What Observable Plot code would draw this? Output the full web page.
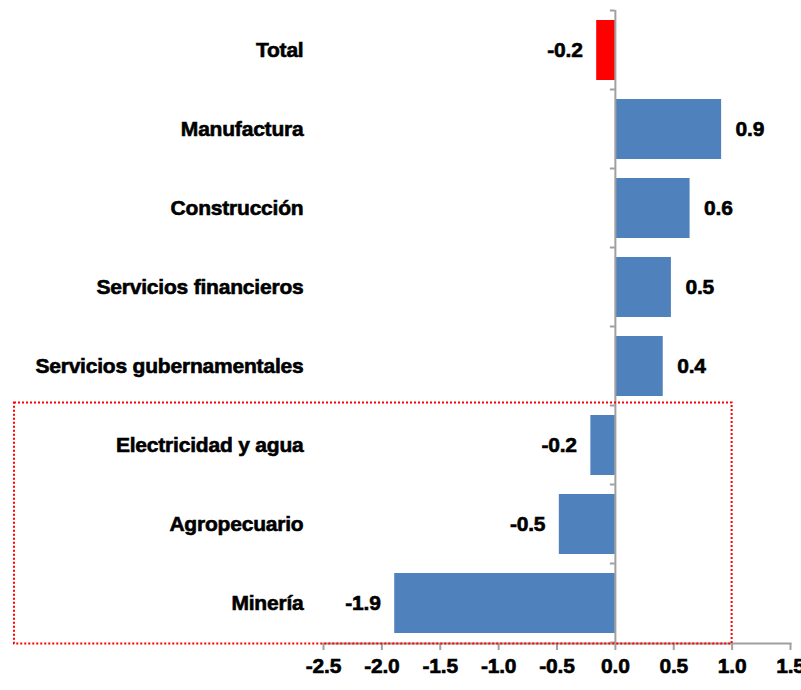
<!DOCTYPE html>
<html>
<head>
<meta charset="utf-8">
<script src="https://cdn.jsdelivr.net/npm/d3@7"></script>
<script src="https://cdn.jsdelivr.net/npm/@observablehq/plot@0.6"></script>
<style>
  html, body { margin: 0; padding: 0; background: #fff; }
  #chart svg { display: block; }
  #chart svg text { stroke: #000; stroke-width: 0.6px; letter-spacing: -0.2px; }
</style>
</head>
<body>
<div id="chart"></div>
<script>
const categories = ["Total", "Manufactura", "Construcción", "Servicios financieros", "Servicios gubernamentales", "Electricidad y agua", "Agropecuario", "Minería"];
const values = [-0.16, 0.91, 0.64, 0.48, 0.41, -0.21, -0.48, -1.89];
const valueLabels = ["-0.2", "0.9", "0.6", "0.5", "0.4", "-0.2", "-0.5", "-1.9"];
const highlighted = ["Total"];
const boxedCategories = ["Electricidad y agua", "Agropecuario", "Minería"];
const xTicks = [-2.5, -2.0, -1.5, -1.0, -0.5, 0.0, 0.5, 1.0, 1.5];

const data = categories.map((c, i) => ({category: c, value: values[i], label: valueLabels[i]}));
const pos = data.filter(d => d.value >= 0);
const neg = data.filter(d => d.value < 0);
const font = "'Liberation Sans', Arial, sans-serif";
const axisGray = "#a0a0a0";

const plot = Plot.plot({
  width: 801,
  height: 690,
  marginTop: 10,
  marginBottom: 47,
  marginLeft: 323,
  marginRight: 11,
  style: {fontFamily: font, fontWeight: "bold", fontSize: "21px", color: "#000", background: "#fff", overflow: "visible"},
  x: {domain: [-2.5, 1.5], label: null},
  y: {domain: categories, paddingInner: 0.24, paddingOuter: 0.12, axis: null},
  marks: [
    Plot.barX(data, {
      x: "value",
      y: "category",
      fill: d => highlighted.includes(d.category) ? "#FF0000" : "#4F81BD"
    }),
    Plot.ruleX([0], {stroke: axisGray, strokeWidth: 2}),
    Plot.frame({anchor: "bottom", stroke: axisGray, strokeWidth: 2}),
    Plot.axisX({
      ticks: xTicks,
      tickFormat: d => d.toFixed(1),
      tickSize: 7,
      stroke: axisGray,
      strokeWidth: 2,
      tickPadding: 8,
      fontSize: 21,
      fontWeight: "bold",
      fill: "#000",
      label: null
    }),
    Plot.text(data, {
      y: "category",
      frameAnchor: "left",
      dx: -20,
      textAnchor: "end",
      text: "category",
      fontSize: 21,
      fontWeight: "bold",
      fill: "#000"
    }),
    Plot.text(pos, {
      x: "value",
      y: "category",
      text: "label",
      textAnchor: "start",
      dx: 14,
      fontSize: 21,
      fontWeight: "bold",
      fill: "#000"
    }),
    Plot.text(neg, {
      x: "value",
      y: "category",
      text: "label",
      textAnchor: "end",
      dx: -14,
      fontSize: 21,
      fontWeight: "bold",
      fill: "#000"
    })
  ]
});

// Y axis ticks at band boundaries and annotation frame
const xs = plot.scale("x");
const ys = plot.scale("y");
const svg = d3.select(plot);
const x0 = xs.apply(0);
const step = ys.step;
const bw = ys.bandwidth;
const firstStart = ys.apply(categories[0]) - (step - bw) / 2;
const g = svg.append("g").attr("stroke", axisGray).attr("stroke-width", 2);
for (let i = 0; i <= categories.length; i++) {
  const yy = firstStart + i * step;
  g.append("line").attr("x1", x0 - 5).attr("x2", x0).attr("y1", yy).attr("y2", yy);
}
const boxTop = ys.apply(boxedCategories[0]) - (step - bw) / 2 - 3;
const boxBottom = firstStart + categories.length * step + 1;
svg.append("rect")
  .attr("x", 14)
  .attr("y", boxTop)
  .attr("width", xs.apply(1.0) - 14)
  .attr("height", boxBottom - boxTop)
  .attr("fill", "none")
  .attr("stroke", "#FF0000")
  .attr("stroke-width", 2)
  .attr("stroke-dasharray", "2,2");

document.getElementById("chart").appendChild(plot);
</script>
</body>
</html>
